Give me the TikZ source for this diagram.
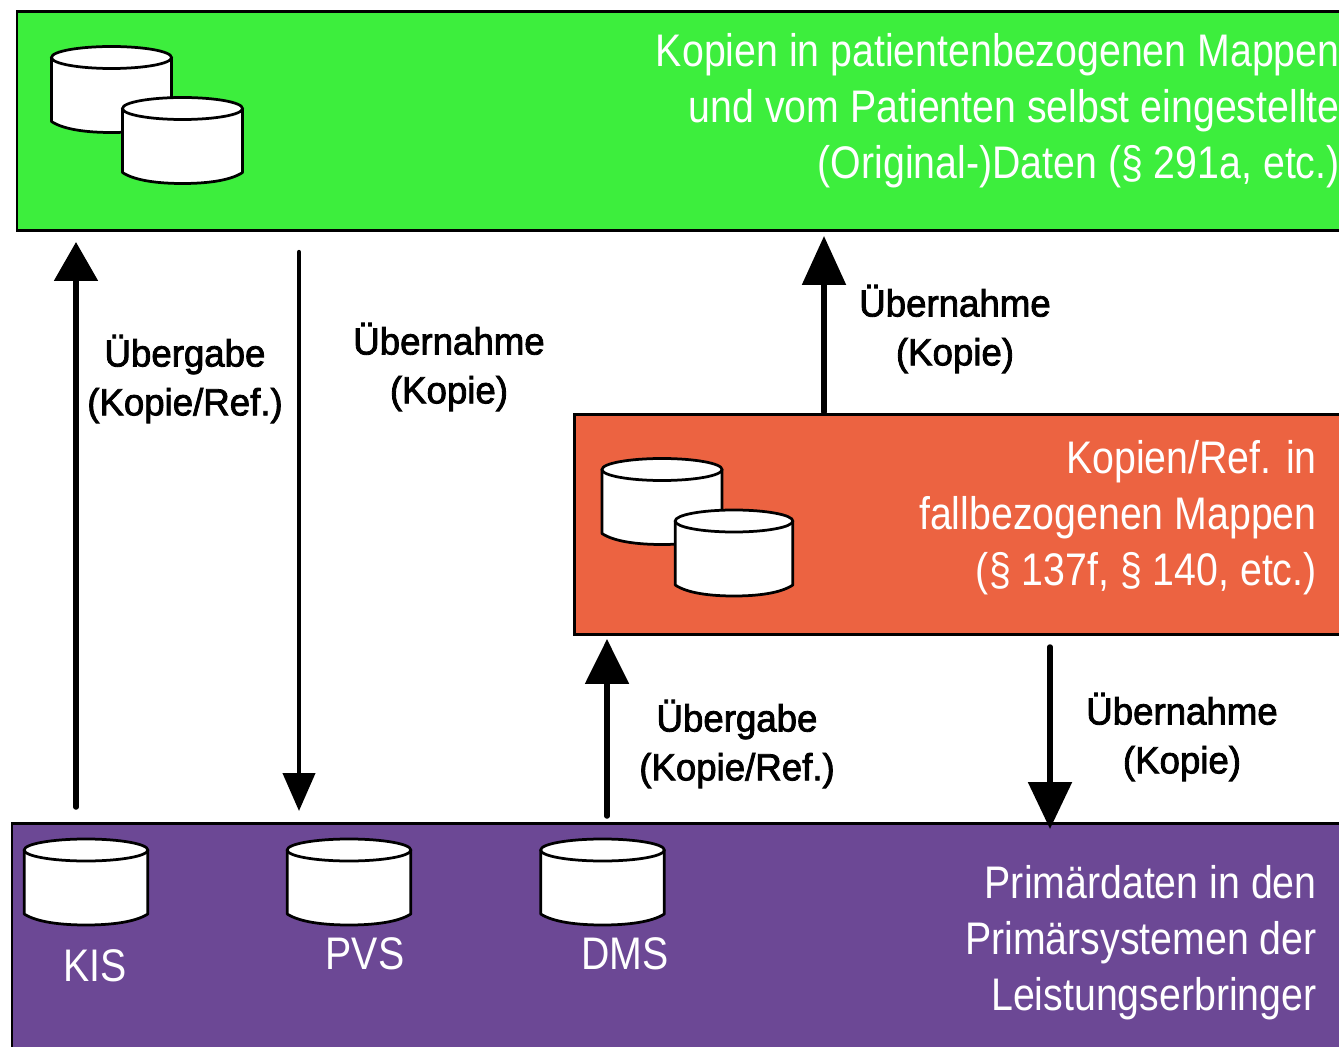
\documentclass[tikz,border=0pt]{standalone}
\usepackage{xcolor}
\usepackage{fontspec}
\setmainfont{Liberation Sans}[FakeStretch=0.86]
\newfontfamily\flowfont{Liberation Sans}[FakeStretch=0.97,FakeBold=2.2]
\usetikzlibrary{arrows.meta}
\definecolor{patientgreen}{HTML}{3DEE3D}
\definecolor{caseorange}{HTML}{EC6341}
\definecolor{primarypurple}{HTML}{6C4895}
\tikzset{
    panel/.style={draw, rectangle, line width=0.06cm, anchor=north west, inner sep=0pt, outer sep=0pt},
    dbcyl/.pic={
        \draw[fill=white, line width=0.055cm, line join=round] (-60,-32) -- (-60,32) .. controls (-48,40) and (-25,43) .. (0,43) .. controls (25,43) and (48,40) .. (60,32) -- (60,-32);
        \draw[fill=white, line width=0.055cm] (0,-32) ellipse [x radius=60, y radius=11];
    },
    bigtext/.style={text=white, align=right, inner sep=0pt, font=\fontsize{26}{31.9}\selectfont},
    flowtext/.style={align=center, inner sep=0pt, font=\flowfont\fontsize{21.5}{27.8}\selectfont},
    heavyflow/.style={line width=0.11cm, line cap=round, -{Triangle[length=#1,width=0.86cm]}},
    thinflow/.style={line width=0.085cm, line cap=round, -{Triangle[length=0.76cm,width=0.64cm]}},
}
\begin{document}
\begin{tikzpicture}[x=0.02cm, y=-0.02cm]
    \useasboundingbox (0,0) rectangle (1339,1047);
    % Boxes
    \node[panel, fill=patientgreen, minimum width=28cm, minimum height=4.38cm] (patient) at (17,12) {};
    \node[panel, fill=caseorange, minimum width=17cm, minimum height=4.4cm] (case) at (574,414.5) {};
    \node[panel, fill=primarypurple, minimum width=28cm, minimum height=6cm] (primary) at (12,823) {};

    % Cylinders
    \pic (patientdba) at (111.5,89.5) {dbcyl};
    \pic (patientdbb) at (182.5,140.5) {dbcyl};
    \pic (casedba) at (662,501.5) {dbcyl};
    \pic[xscale=0.98] (casedbb) at (734,553) {dbcyl};
    \pic[xscale=1.03] (kis) at (86,882) {dbcyl};
    \pic[xscale=1.03] (pvs) at (349,882) {dbcyl};
    \pic[xscale=1.03] (dms) at (602.5,882) {dbcyl};

    % Texts
    \node[bigtext, anchor=east] (patienttext) at (1340,110.5) {Kopien in patientenbezogenen Mappen\\und vom Patienten selbst eingestellte\\(Original-)Daten (§ 291a, etc.)};
    \node[bigtext, anchor=east] (casetext) at (1317,517.5) {Kopien/Ref. in\\fallbezogenen Mappen\\(§ 137f, § 140, etc.)};
    \node[bigtext, anchor=east] (primarytext) at (1317,942.5) {Primärdaten in den\\Primärsystemen der\\Leistungserbringer};
    \node[bigtext] (kislabel) at (95,966) {KIS};
    \node[bigtext] (pvslabel) at (365,954) {PVS};
    \node[bigtext] (dmslabel) at (625,954) {DMS};

    % Arrow ends
    \coordinate (kisout) at (76,807);
    \coordinate (patientin) at (76,242);
    \coordinate (patientout) at (299,252);
    \coordinate (pvsin) at (299,811);
    \coordinate (caseout) at (824,412);
    \coordinate (patientcopy) at (824,236);
    \coordinate (dmsout) at (607,816);
    \coordinate (casein) at (607,639);
    \coordinate (casedown) at (1050,647);
    \coordinate (primaryin) at (1050,829);

    % Arrows
    \draw[heavyflow=0.78cm] (kisout) -- (patientin);
    \draw[thinflow] (patientout) -- (pvsin);
    \draw[heavyflow=0.98cm] (caseout) -- (patientcopy);
    \draw[heavyflow=0.9cm] (dmsout) -- (casein);
    \draw[heavyflow=0.94cm] (casedown) -- (primaryin);

    % Arrow labels
    \node[flowtext] (handoverleft) at (185,379) {Übergabe\\(Kopie/Ref.)};
    \node[flowtext] (takeleft) at (449,367) {Übernahme\\(Kopie)};
    \node[flowtext] (taketop) at (955,329) {Übernahme\\(Kopie)};
    \node[flowtext] (handovercase) at (737,744) {Übergabe\\(Kopie/Ref.)};
    \node[flowtext] (takecase) at (1182,737) {Übernahme\\(Kopie)};
\end{tikzpicture}
\end{document}
